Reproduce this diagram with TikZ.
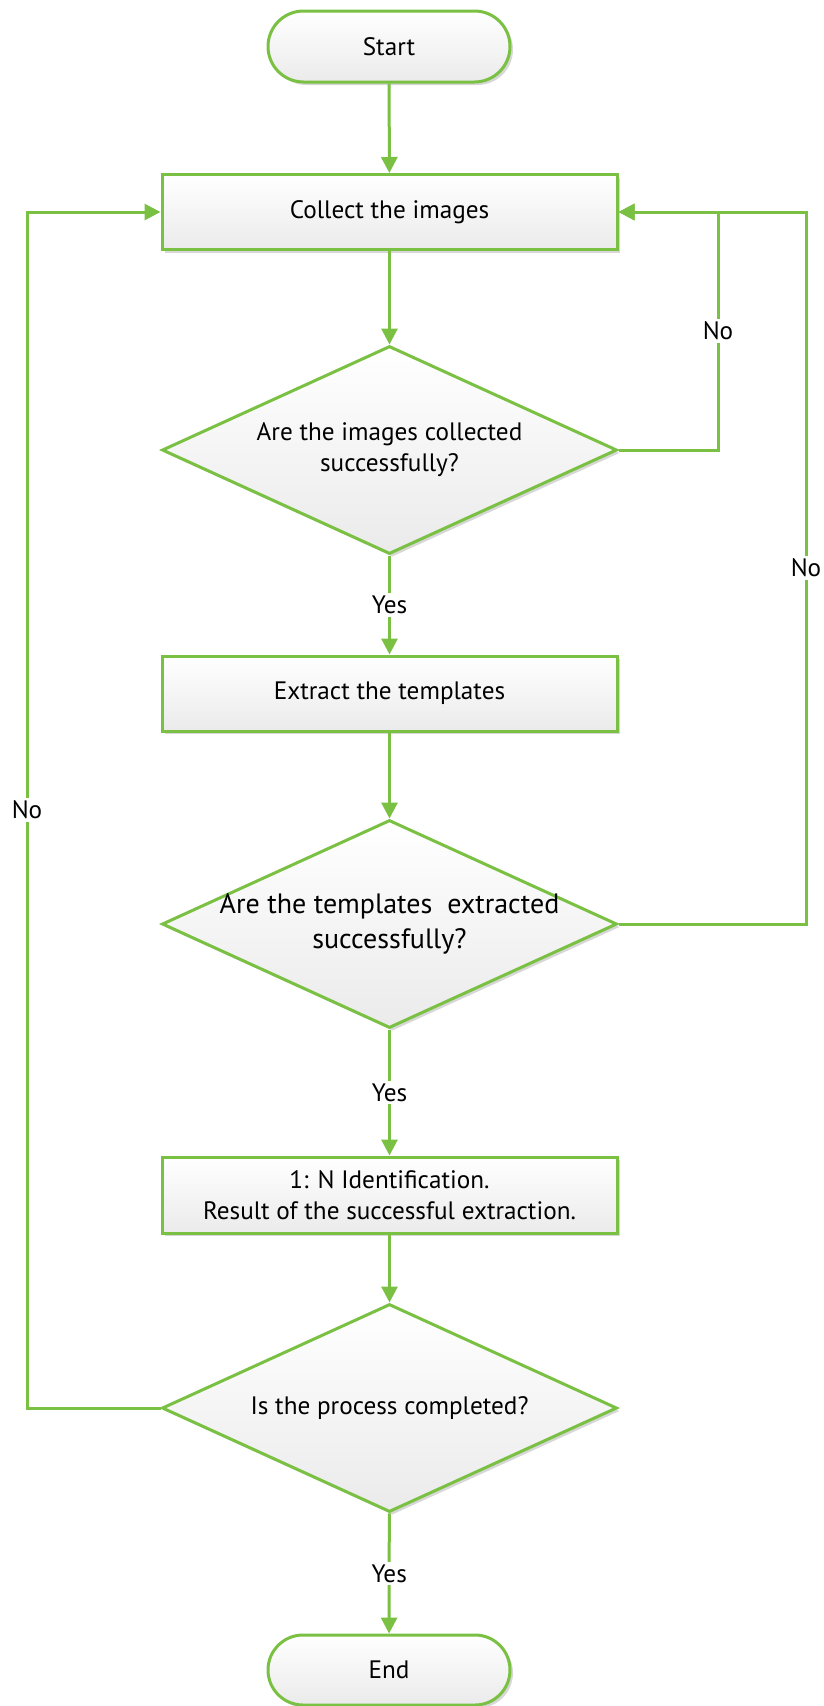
\documentclass[tikz,border=0pt]{standalone}
\usepackage{fontspec}
\setmainfont{PT Sans}
\usetikzlibrary{shapes.geometric,shapes.misc,arrows.meta,shadows,calc}
\definecolor{flowgreen}{RGB}{122,192,67}
\definecolor{shadowgray}{RGB}{215,215,215}
\tikzset{
  basebox/.style={draw=flowgreen, line width=3pt, top color=white, bottom color=black!8,
    drop shadow={shadow xshift=3pt, shadow yshift=-3pt, fill=shadowgray, opacity=1},
    inner sep=0pt, align=center, font=\fontsize{25.2}{31}\selectfont},
  procbox/.style={basebox, rectangle, minimum width=455pt, minimum height=75pt},
  termbox/.style={basebox, rounded rectangle, minimum width=242pt, minimum height=71pt},
  decbox/.style={basebox, diamond, aspect=2.19, minimum width=455pt, minimum height=208pt},
  flow/.style={draw=flowgreen, line width=3pt, -{Triangle[length=16pt,width=16pt]}},
  lbl/.style={fill=white, inner sep=3pt, font=\fontsize{25.2}{31}\selectfont}
}
\begin{document}
\begin{tikzpicture}[x=1pt,y=-1pt]
\useasboundingbox (0,0) rectangle (824,1706);
\node[termbox] (start) at (389,46.5) {Start};
\node[procbox] (collect) at (389.5,212) {Collect the images};
\node[decbox] (d1) at (389.5,450) {Are the images collected\\successfully?};
\node[procbox] (extract) at (389.5,693.5) {Extract the templates};
\node[decbox, inner sep=-14pt, font=\fontsize{28}{35}\selectfont] (d2) at (389.5,924) {Are the templates\ \ extracted\\successfully?};
\node[procbox, minimum height=76pt] (ident) at (389.5,1195) {1: N Identification.\\Result of the successful extraction.};
\node[decbox] (d3) at (389.5,1408) {Is the process completed?};
\node[termbox, minimum height=70pt] (end) at (389,1670) {End};

\coordinate (r1) at (718,0);
\coordinate (r2) at (806,0);
\coordinate (l1) at (27,0);

\draw[flow] (start) -- (collect);
\draw[flow] (collect) -- (d1);
\draw[flow] (d1) -- node[lbl]{Yes} (extract);
\draw[flow] (extract) -- (d2);
\draw[flow] (d2) -- node[lbl]{Yes} (ident);
\draw[flow] (ident) -- (d3);
\draw[flow] (d3) -- node[lbl]{Yes} (end);

\draw[flow] (d1.east) -- (d1.east -| r1) -- node[lbl]{No} (collect.east -| r1) -- (collect.east);
\draw[flow] (d2.east) -- (d2.east -| r2) -- node[lbl]{No} (collect.east -| r2) -- (collect.east);
\draw[flow] (d3.west) -- (d3.west -| l1) -- node[lbl]{No} (collect.west -| l1) -- (collect.west);
\end{tikzpicture}
\end{document}
